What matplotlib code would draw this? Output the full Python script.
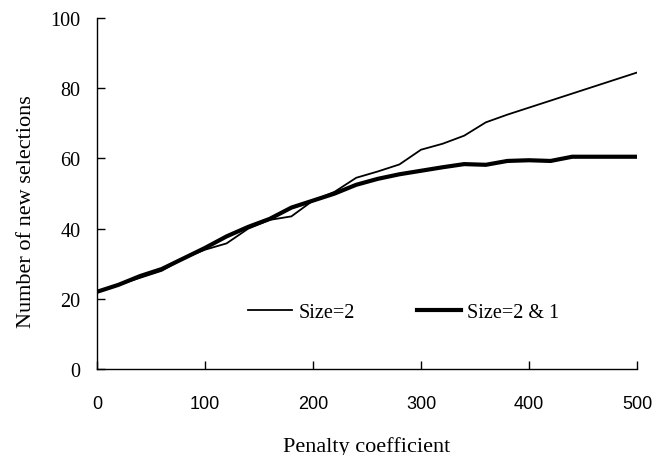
import matplotlib
matplotlib.use("Agg")
import matplotlib.pyplot as plt

penalty = [0, 20, 40, 60, 80, 100, 120, 140, 160, 180, 200, 220, 240,
           260, 280, 300, 320, 340, 360, 380, 400, 420, 440, 460, 480, 500]

size2 = [22, 24, 26, 28, 31.5, 34, 35.8, 40, 42.5, 43.5, 48, 50.5, 54.5,
         56.3, 58.3, 62.5, 64.2, 66.5, 70.3, 72.5, 74.5, 76.5, 78.5, 80.5, 82.5, 84.5]

size21 = [22, 24, 26.5, 28.5, 31.5, 34.5, 37.8, 40.5, 42.8, 46, 48, 50, 52.5,
          54.2, 55.5, 56.5, 57.5, 58.4, 58.2, 59.3, 59.5, 59.3, 60.5, 60.5, 60.5, 60.5]

serif = "Liberation Serif"
sans = "Liberation Sans"

fig = plt.figure(figsize=(6.53, 4.56), dpi=100)
ax = fig.add_axes([0.1485, 0.1886, 0.827, 0.7694])

ax.plot(penalty, size2, color="black", lw=1.3, label="Size=2")
ax.plot(penalty, size21, color="black", lw=3.0, label="Size=2 & 1")

ax.set_xlim(0, 500)
ax.set_ylim(0, 100)
ax.set_xticks([0, 100, 200, 300, 400, 500])
ax.set_yticks([0, 20, 40, 60, 80, 100])

for s in ["top", "right"]:
    ax.spines[s].set_visible(False)
for s in ["left", "bottom"]:
    ax.spines[s].set_linewidth(1.0)

ax.tick_params(axis="both", direction="in", length=6, width=1.0)
ax.tick_params(axis="y", pad=12)
ax.tick_params(axis="x", pad=19)

for lbl in ax.get_yticklabels():
    lbl.set_fontfamily(serif)
    lbl.set_fontsize(14.5)
for lbl in ax.get_xticklabels():
    lbl.set_fontfamily(sans)
    lbl.set_fontsize(13)

ax.set_xlabel("Penalty coefficient", fontfamily=serif, fontsize=16)
ax.set_ylabel("Number of new selections", fontfamily=serif, fontsize=16)
ax.xaxis.set_label_coords(0.5, -0.19)
ax.yaxis.set_label_coords(-0.112, 0.45)

ax.legend(loc="center left", bbox_to_anchor=(0.261, 0.16), ncol=2, frameon=False,
          borderpad=0, handlelength=2.2, handletextpad=0.3, columnspacing=3.1,
          prop={"family": serif, "size": 14.5})

fig.savefig("out.png", dpi=100)
